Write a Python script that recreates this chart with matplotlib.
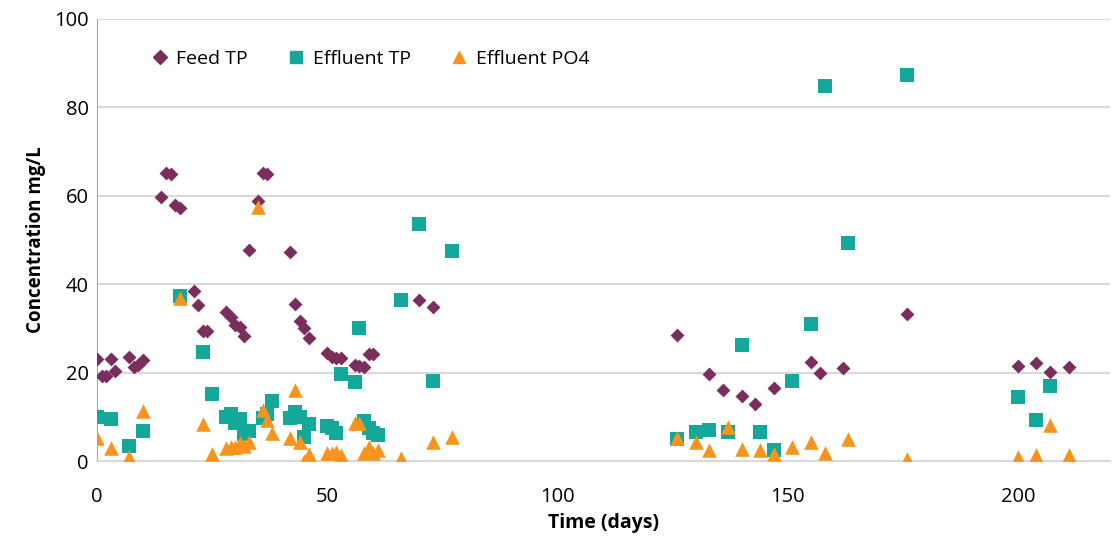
import matplotlib.pyplot as plt
from matplotlib.lines import Line2D

# Data
feed_day = [0, 1, 2, 3, 4, 7, 8, 9, 10, 14, 15, 16, 17, 18, 21, 22, 23, 24,
            28, 29, 30, 31, 32, 33, 35, 36, 37, 42, 43, 44, 45, 46,
            50, 51, 52, 53, 56, 57, 58, 59, 60, 70, 73,
            126, 133, 136, 140, 143, 147, 155, 157, 162, 176,
            200, 204, 207, 211]
feed_tp = [23.1, 19.2, 19.2, 23.0, 20.4, 23.5, 21.3, 21.7, 22.8, 59.7, 65.2, 65.0, 58.0, 57.2,
           38.5, 35.3, 29.4, 29.4, 33.7, 32.6, 30.8, 30.3, 28.3, 47.7, 58.8, 65.2, 65.0,
           47.3, 35.5, 31.7, 30.1, 27.8, 24.4, 23.5, 23.3, 23.3, 21.7, 21.5, 21.3, 24.2, 24.2,
           36.4, 34.9, 28.5, 19.7, 16.1, 14.7, 12.8, 16.5, 22.3, 20.0, 21.0, 33.2,
           21.5, 22.2, 20.2, 21.2]

eff_day = [0, 3, 7, 10, 18, 23, 25, 28, 29, 30, 31, 32, 33, 36, 37, 38,
           42, 43, 44, 45, 46, 50, 51, 52, 53, 56, 57, 58, 59, 60, 61,
           66, 70, 73, 77,
           126, 130, 133, 137, 140, 144, 147, 151, 155, 158, 163, 176,
           200, 204, 207]
eff_tp = [10.0, 9.5, 3.4, 6.8, 37.3, 24.7, 15.2, 10.0, 10.6, 8.6, 9.5, 6.1, 6.8, 9.7, 10.6, 13.6,
          9.7, 11.1, 10.0, 5.4, 8.4, 7.9, 7.5, 6.3, 19.7, 17.9, 30.1, 9.0, 7.5, 6.3, 5.9,
          36.4, 53.6, 18.2, 47.4,
          5.0, 6.6, 7.1, 6.6, 26.2, 6.6, 2.5, 18.1, 31.0, 84.8, 49.4, 87.3,
          14.4, 9.2, 16.9]

po4_day = [0, 3, 7, 10, 18, 23, 25, 28, 29, 30, 31, 32, 33, 35, 36, 37, 38,
           42, 43, 44, 45, 46, 50, 51, 52, 53, 56, 57, 58, 59, 60, 61, 66, 73, 77,
           126, 130, 133, 137, 140, 144, 147, 151, 155, 158, 163, 176,
           200, 204, 207, 211]
po4 = [5.2, 2.9, 0.9, 11.3, 36.9, 8.4, 1.6, 2.9, 3.2, 3.2, 4.0, 3.4, 4.4, 57.5, 11.5, 9.3, 6.3,
       5.1, 16.1, 4.2, 0.0, 1.6, 1.7, 1.7, 2.1, 1.4, 8.7, 8.5, 1.7, 3.2, 1.7, 2.5, 0.6, 4.2, 5.4,
       5.3, 4.2, 2.6, 7.8, 2.8, 2.6, 1.5, 3.2, 4.2, 1.7, 5.0, 0.4,
       0.8, 1.4, 8.1, 1.3]

c_feed = '#7B2D5E'
c_eff = '#14A89B'
c_po4 = '#F7941D'

plt.rcParams['font.family'] = ['Open Sans', 'DejaVu Sans']

fig = plt.figure(figsize=(11.12, 5.38), dpi=100)
ax = fig.add_axes([0.0872, 0.1431, 0.911, 0.8216])

ax.scatter(feed_day, feed_tp, marker='D', s=50, color=c_feed, zorder=3, linewidths=0)
ax.scatter(eff_day, eff_tp, marker='s', s=110, color=c_eff, zorder=3, linewidths=0)
ax.scatter(po4_day, po4, marker='^', s=110, color=c_po4, zorder=4, linewidths=0)

ax.set_xlim(0, 220)
ax.set_ylim(0, 100)
ax.set_xticks([0, 50, 100, 150, 200])
ax.set_yticks([0, 20, 40, 60, 80, 100])
ax.grid(axis='y', color='#D9D9D9', linewidth=1.5)
ax.set_axisbelow(True)
for s in ['top', 'right']:
    ax.spines[s].set_visible(False)
ax.spines['left'].set_color('#A6A6A6')
ax.spines['bottom'].set_color('#D9D9D9')
ax.spines['bottom'].set_linewidth(1.5)
ax.tick_params(axis='both', length=0, labelsize=14.5)
ax.tick_params(axis='y', pad=6)
ax.tick_params(axis='x', pad=19)

ax.set_xlabel('Time (days)', fontsize=14, fontweight='bold', labelpad=4)
ax.set_ylabel('Concentration mg/L', fontsize=13.5, fontweight='bold', labelpad=6)

handles = [
    Line2D([], [], marker='D', linestyle='none', color=c_feed, markersize=7),
    Line2D([], [], marker='s', linestyle='none', color=c_eff, markersize=9),
    Line2D([], [], marker='^', linestyle='none', color=c_po4, markersize=9),
]
ax.legend(handles, ['Feed TP', 'Effluent TP', 'Effluent PO4'], ncol=3, frameon=False,
          loc='upper left', bbox_to_anchor=(0.033, 0.97), fontsize=14,
          handletextpad=0.25, columnspacing=1.9, handlelength=1.2)

plt.savefig('out.png', dpi=100)
